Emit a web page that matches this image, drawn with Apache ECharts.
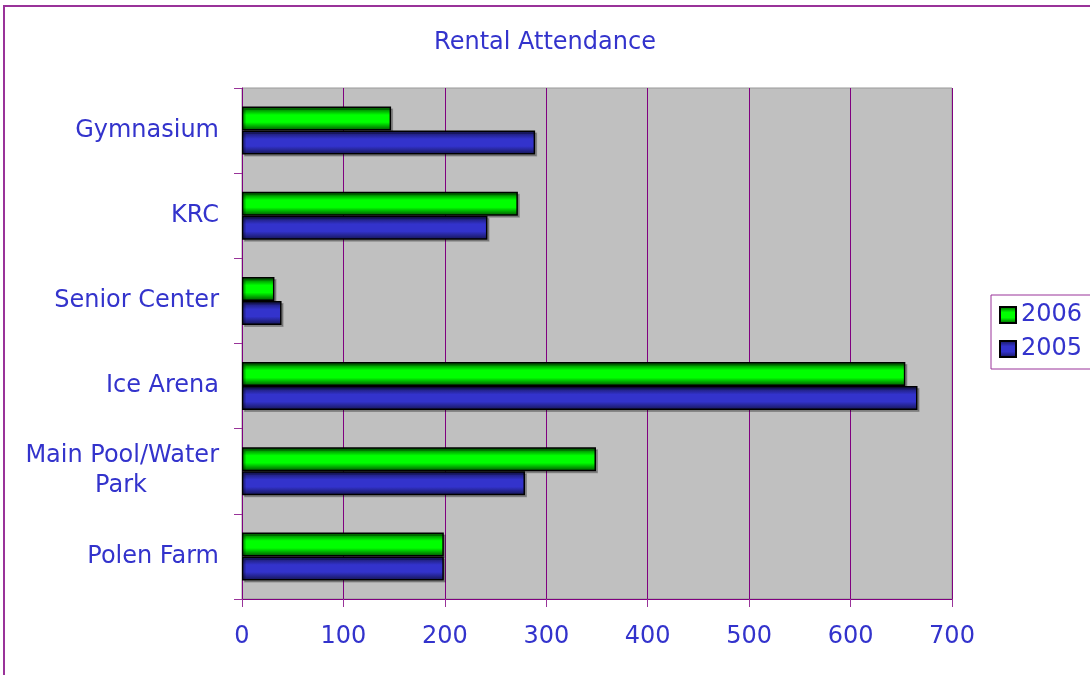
<!DOCTYPE html>
<html>
<head>
<meta charset="utf-8">
<title>Rental Attendance</title>
<script src="https://cdn.jsdelivr.net/npm/echarts@6/dist/echarts.min.js"></script>
<style>
  html, body { margin: 0; padding: 0; background: #fff; }
  #chart { width: 1090px; height: 675px; }
</style>
</head>
<body>
<div id="chart"></div>
<script>
// 数据
const categories = ['Polen Farm', 'Main Pool/Water Park', 'Ice Arena', 'Senior Center', 'KRC', 'Gymnasium']
const data2006 = [199, 349, 654, 32, 272, 147]
const data2005 = [199, 279, 666, 39, 242, 289]
const xTicks = [0, 700, 100] // min, max, interval

const textColor = '#3333cc'
const purple = '#800080'

// 柱子渐变
const barFill = (edge, mid) => ({
  type: 'linear',
  x: 0, y: 0, x2: 0, y2: 1,
  colorStops: [
    { offset: 0, color: edge },
    { offset: 0.35, color: mid },
    { offset: 0.65, color: mid },
    { offset: 1, color: edge }
  ]
})

const barStyle = (edge, mid) => ({
  color: barFill(edge, mid),
  borderColor: '#000',
  borderWidth: 1.5,
  shadowColor: 'rgba(0,0,0,0.25)',
  shadowOffsetX: 2,
  shadowOffsetY: 2,
  shadowBlur: 0
})

const myChart = echarts.init(document.querySelector('#chart'))
const option = {
  textStyle: { fontFamily: 'DejaVu Sans' },
  title: {
    text: 'Rental Attendance',
    left: 'center',
    top: 26,
    textStyle: { color: textColor, fontSize: 24, fontWeight: 'normal', fontFamily: 'DejaVu Sans' }
  },
  legend: {
    orient: 'vertical',
    left: 991,
    top: 295,
    padding: [8, 30, 8, 8],
    itemWidth: 16,
    itemHeight: 16,
    itemGap: 10,
    icon: 'rect',
    borderColor: '#993399',
    borderWidth: 1,
    data: ['2006', '2005'],
    textStyle: { color: textColor, fontSize: 24, fontFamily: 'DejaVu Sans' }
  },
  grid: {
    left: 242,
    right: 138,
    top: 88,
    bottom: 76,
    show: true,
    backgroundColor: '#c0c0c0',
    borderColor: '#999999',
    borderWidth: 1
  },
  xAxis: {
    type: 'value',
    min: xTicks[0],
    max: xTicks[1],
    interval: xTicks[2],
    axisLine: { show: true, lineStyle: { color: purple, width: 1 } },
    axisTick: { show: true, length: 8, lineStyle: { color: '#993399' } },
    splitLine: { show: true, lineStyle: { color: purple, width: 1 } },
    axisLabel: { color: textColor, fontSize: 24, margin: 26, fontFamily: 'DejaVu Sans' }
  },
  yAxis: {
    type: 'category',
    data: categories,
    axisLine: { show: true, lineStyle: { color: purple, width: 1 } },
    axisTick: { show: true, length: 8, lineStyle: { color: '#993399' } },
    axisLabel: {
      color: textColor,
      fontSize: 24,
      margin: 23,
      fontFamily: 'DejaVu Sans',
      formatter: value => {
        if (value === 'Main Pool/Water Park') return '{a|Main Pool/Water}\n{b|Park}'
        return value
      },
      rich: {
        a: { color: textColor, fontSize: 24, lineHeight: 30, fontFamily: 'DejaVu Sans' },
        b: { color: textColor, fontSize: 24, lineHeight: 30, width: 196, align: 'center', fontFamily: 'DejaVu Sans' }
      }
    }
  },
  series: [
    {
      name: '2006',
      type: 'bar',
      data: data2006,
      barWidth: 24,
      barGap: '0%',
      itemStyle: barStyle('#004d00', '#00ff00')
    },
    {
      name: '2005',
      type: 'bar',
      data: data2005,
      barWidth: 24,
      barGap: '0%',
      itemStyle: barStyle('#141450', '#3333cc')
    }
  ],
  graphic: [
    {
      type: 'rect',
      z: -10,
      shape: { x: 4, y: 6, width: 1200, height: 800 },
      style: { fill: 'none', stroke: '#993399', lineWidth: 2 }
    }
  ]
}
myChart.setOption(option)
</script>
</body>
</html>
